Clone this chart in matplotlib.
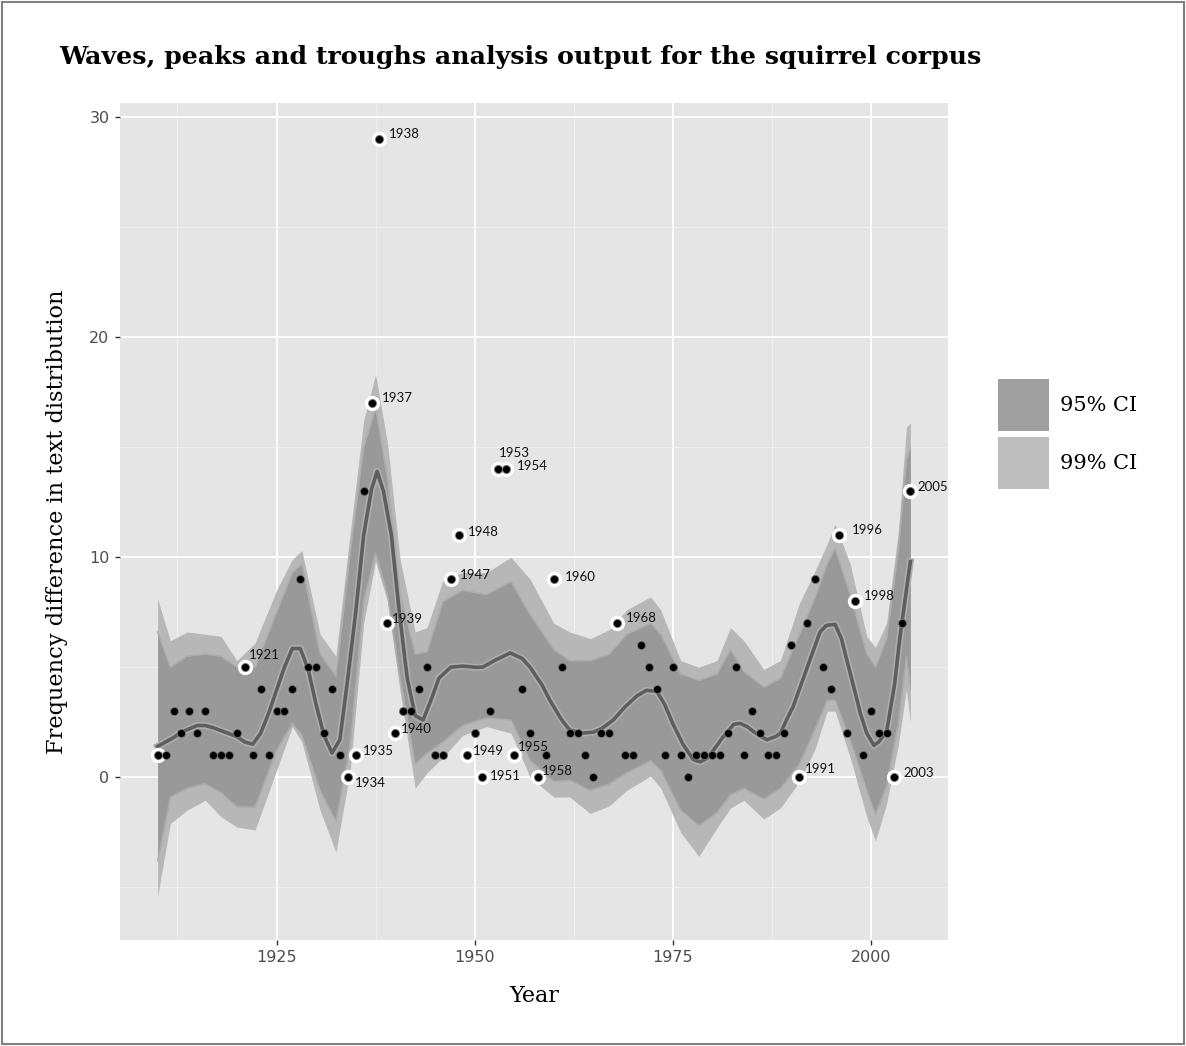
import matplotlib
matplotlib.use("Agg")
import matplotlib.pyplot as plt
import matplotlib.patheffects as pe
from matplotlib.patches import Patch, Rectangle
from matplotlib.ticker import FixedLocator

# observed frequency differences, one per year
years = list(range(1910, 2006))
values = [1, 1, 3, 2, 3, 2, 3, 1, 1, 1,      # 1910-1919
          2, 5, 1, 4, 1, 3, 3, 4, 9, 5,      # 1920-1929
          5, 2, 4, 1, 0, 1, 13, 17, 29, 7,   # 1930-1939
          2, 3, 3, 4, 5, 1, 1, 9, 11, 1,     # 1940-1949
          2, 0, 3, 14, 14, 1, 4, 2, 0, 1,    # 1950-1959
          9, 5, 2, 2, 1, 0, 2, 2, 7, 1,      # 1960-1969
          1, 6, 5, 4, 1, 5, 1, 0, 1, 1,      # 1970-1979
          1, 1, 2, 5, 1, 3, 2, 1, 1, 2,      # 1980-1989
          6, 0, 7, 9, 5, 4, 11, 2, 8, 1,     # 1990-1999
          3, 2, 2, 0, 7, 13]                 # 2000-2005

# peaks and troughs that carry a label
labelled = [1921, 1934, 1935, 1937, 1938, 1939, 1940, 1947, 1948, 1949, 1951,
            1953, 1954, 1955, 1958, 1960, 1968, 1991, 1996, 1998, 2003, 2005]

# smoothed fit
fit_years = [1910, 1912, 1913, 1915, 1916, 1917, 1918.5, 1920, 1921, 1922,
             1923, 1924, 1925, 1926, 1927, 1928, 1929, 1930, 1931, 1932,
             1933, 1934, 1935, 1936, 1937, 1937.7, 1938.5, 1939.5, 1940.5, 1941.5,
             1942.5, 1943.5, 1944.5, 1945.5, 1947, 1948.5, 1950, 1951, 1952.5, 1954.5,
             1956, 1957, 1958.5, 1959.5, 1961, 1962, 1963.5, 1965, 1966, 1967.5,
             1969, 1970.5, 1971.7, 1973, 1974, 1975, 1976.3, 1977.6, 1978.5, 1979.3,
             1980.1, 1981.3, 1982.7, 1983.5, 1984.4, 1985.5, 1986.9, 1988, 1988.6, 1989.5,
             1990.2, 1991.1, 1992.3, 1993.6, 1994.4, 1995.5, 1996.3, 1997, 1998, 1998.7,
             1999.5, 2000.4, 2001, 2002, 2003, 2003.7, 2005]
fit_values = [1.4, 1.8, 2.05, 2.35, 2.35, 2.25, 2.05, 1.85, 1.6, 1.5,
              2.0, 2.9, 3.95, 5.0, 5.85, 5.85, 4.9, 3.3, 1.9, 1.1,
              1.7, 4.5, 7.5, 11.0, 13.1, 13.9, 13.0, 11.0, 7.5, 4.5,
              2.8, 2.6, 3.5, 4.5, 5.0, 5.05, 5.0, 5.0, 5.3, 5.65,
              5.4, 5.0, 4.2, 3.5, 2.6, 2.15, 2.0, 2.05, 2.2, 2.6,
              3.2, 3.7, 3.95, 3.9, 3.3, 2.45, 1.5, 0.8, 0.7, 0.85,
              1.2, 1.8, 2.4, 2.45, 2.3, 2.0, 1.7, 1.85, 2.0, 2.7,
              3.2, 4.1, 5.3, 6.6, 6.9, 6.95, 6.3, 5.3, 3.9, 2.9,
              2.0, 1.45, 1.6, 2.06, 4.2, 6.4, 9.8]

# confidence bands
band_years = [1910, 1911.6, 1913.7, 1916, 1918, 1920, 1922.3, 1925, 1927, 1928.2,
              1930.5, 1932.5, 1934.3, 1936, 1937.5, 1939, 1940.6, 1942.5, 1944, 1946,
              1948.5, 1951.5, 1954.6, 1957, 1960, 1962, 1964.6, 1967, 1969.2, 1972.2,
              1973.5, 1976, 1978.3, 1980.6, 1982.3, 1984, 1986.5, 1988.6, 1991, 1993,
              1994.5, 1995.5, 1997.4, 1999.5, 2000.6, 2002, 2003.5, 2004.5, 2005]
hi99 = [8.1, 6.2, 6.6, 6.5, 6.4, 5.3, 6.1, 8.5, 9.9, 10.3,
        6.5, 5.5, 11.1, 16.2, 18.3, 15.2, 9.9, 6.6, 6.8, 8.95,
        9.3, 9.3, 10.0, 9.0, 7.0, 6.6, 6.3, 6.7, 7.6, 8.2,
        7.6, 5.3, 5.0, 5.3, 6.8, 6.2, 4.9, 5.3, 7.9, 9.4,
        10.6, 11.5, 9.7, 6.4, 5.9, 7.0, 11.2, 15.9, 16.1]
hi95 = [6.6, 5.0, 5.5, 5.6, 5.5, 5.0, 5.0, 7.5, 9.3, 9.7,
        5.6, 4.6, 10.2, 15.0, 16.8, 13.6, 8.3, 5.6, 5.7, 8.0,
        8.5, 8.3, 8.9, 7.4, 5.8, 5.3, 5.3, 5.6, 6.5, 7.0,
        6.5, 4.7, 4.4, 4.7, 5.8, 4.8, 4.1, 4.5, 6.5, 8.2,
        9.7, 10.4, 8.3, 5.6, 5.0, 6.3, 10.4, 14.4, 15.0]
lo95 = [-3.8, -0.9, -0.5, -0.3, -0.7, -1.35, -1.35, 1.2, 2.45, 1.9,
        -0.6, -2.0, 1.5, 8.0, 10.2, 8.3, 4.5, 0.6, 1.1, 1.6,
        2.35, 2.7, 2.6, 0.77, -0.2, -0.14, -0.6, -0.3, 0.2, 0.75,
        0.3, -1.5, -2.2, -1.6, -0.8, -0.5, -1.0, -0.5, 0.6, 2.2,
        3.5, 3.5, 1.7, -0.6, -1.7, -0.4, 2.5, 5.5, 4.0]
lo99 = [-5.4, -2.1, -1.5, -1.05, -1.8, -2.26, -2.4, 0.3, 2.3, 1.6,
        -1.5, -3.4, 0.3, 7.0, 9.8, 8.0, 3.9, -0.5, 0.2, 0.9,
        1.9, 2.3, 2.0, 0.0, -0.9, -0.9, -1.65, -1.3, -0.6, 0.05,
        -0.5, -2.5, -3.6, -2.3, -1.4, -1.05, -1.9, -1.4, -0.2, 1.3,
        3.0, 3.0, 0.9, -1.8, -2.9, -1.2, 1.5, 4.0, 2.5]

# label nudges in pixels (dx, dy)
nudge = {1921: (4, 12), 1934: (7, -6), 1935: (7, 4), 1937: (10, 5), 1938: (9, 5),
         1939: (4, 4), 1940: (6, 4), 1947: (9, 4), 1948: (9, 3), 1949: (6, 4),
         1951: (7, 1), 1953: (1, 16), 1954: (11, 3), 1955: (4, 8), 1958: (4, 6),
         1960: (11, 2), 1968: (9, 5), 1991: (5, 8), 1996: (13, 5), 1998: (9, 5),
         2003: (9, 4), 2005: (7, 4)}

fig = plt.figure(figsize=(11.86, 10.46), dpi=100)
ax = fig.add_axes([0.1012, 0.1013, 0.6981, 0.8002])
ax.set_facecolor('#e5e5e5')
for s in ax.spines.values():
    s.set_visible(False)

# bands
ax.fill_between(band_years, lo99, hi99, color='#b7b7b7', lw=0, zorder=2)
ax.fill_between(band_years, lo95, hi95, color='#999999', lw=0, zorder=3)
ax.plot(band_years, hi95, color='#adadad', lw=1, zorder=3)
ax.plot(band_years, lo95, color='#adadad', lw=1, zorder=3)

# fit line
ax.plot(fit_years, fit_values, color='#5e5e5e', lw=2.6, zorder=4,
        path_effects=[pe.Stroke(linewidth=5, foreground='#adadad'), pe.Normal()])

# points
hl_x = [y for y in years if y in labelled or y == 1910]
hl_y = [values[years.index(y)] for y in hl_x]
ax.plot(hl_x, hl_y, 'o', ms=10, color='white', mec='white', zorder=5)
ax.plot(years, values, 'o', ms=5.8, color='black', mec='#777777', mew=0.6, zorder=6)

for yr in labelled:
    dx, dy = nudge[yr]
    ax.annotate(str(yr), (yr, values[years.index(yr)]), xytext=(dx, dy),
                textcoords='offset pixels', ha='left', va='center',
                fontsize=9.5, family='Lato', color='#111111', zorder=7)

ax.set_xlim(1905.25, 2009.75)
ax.set_ylim(-7.4, 30.64)
ax.set_xticks([1925, 1950, 1975, 2000])
ax.set_yticks([0, 10, 20, 30])
ax.xaxis.set_minor_locator(FixedLocator([1912.5, 1937.5, 1962.5, 1987.5]))
ax.yaxis.set_minor_locator(FixedLocator([-5, 5, 15, 25]))
ax.grid(which='major', color='white', lw=1.3)
ax.grid(which='minor', color='#f2f2f2', lw=0.6)
ax.set_axisbelow(True)
ax.tick_params(which='major', length=3.5, width=1, color='#333333',
               labelsize=11.5, labelcolor='#4d4d4d', pad=4)
ax.tick_params(which='minor', length=0)

serif = 'DejaVu Serif'
ax.set_xlabel('Year', family=serif, fontsize=16, labelpad=14)
ax.set_ylabel('Frequency difference in text distribution', family=serif,
              fontsize=16.2, labelpad=15)
fig.text(0.4385, 0.9455, 'Waves, peaks and troughs analysis output for the squirrel corpus',
         ha='center', va='center', family=serif, fontweight='bold', fontsize=18.2)

handles = [Patch(facecolor='#a0a0a0', edgecolor='none', label='95% CI'),
           Patch(facecolor='#bdbdbd', edgecolor='none', label='99% CI')]
fig.legend(handles=handles, loc='upper left', bbox_to_anchor=(998 / 1186, 1 - 379 / 1046),
           frameon=False, borderaxespad=0, borderpad=0, handlelength=2.45,
           handleheight=3.47, handletextpad=0.53, labelspacing=0.29,
           prop={'family': serif, 'size': 15})

fig.patches.append(Rectangle((0.002, 0.002), 0.996, 0.996, transform=fig.transFigure,
                             fill=False, ec='#808080', lw=1.5))

fig.savefig('out.png', dpi=100, facecolor='white')
